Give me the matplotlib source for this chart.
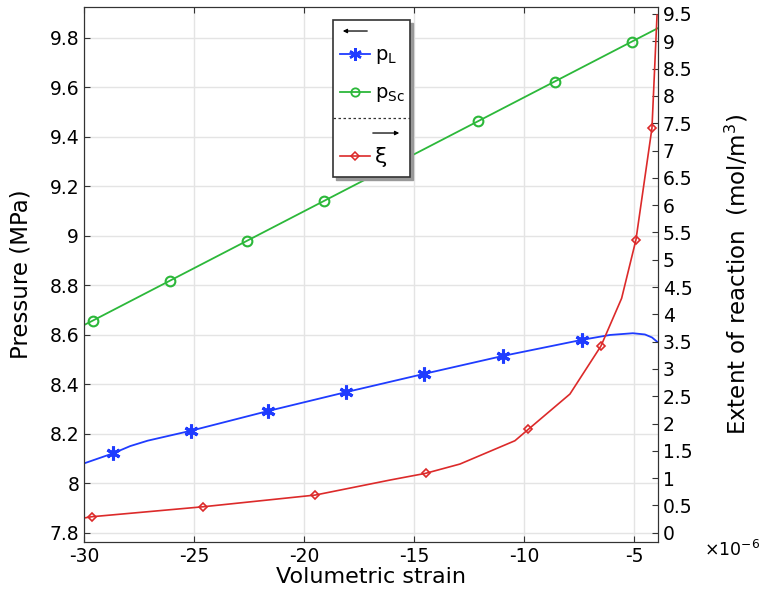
import numpy as np
import matplotlib
matplotlib.use("Agg")
import matplotlib.pyplot as plt
from matplotlib.patches import Rectangle

plt.rcParams["axes.unicode_minus"] = False

# volumetric strain in units of 1e-6
x_sc = [-30, -29.6, -26.1, -22.6, -19.1, -15.6, -12.1, -8.6, -5.1, -3.9]
p_sc = [8.639, 8.657, 8.818, 8.979, 9.140, 9.301, 9.462, 9.623, 9.784, 9.839]
sc_marks = [1, 2, 3, 4, 5, 6, 7, 8]

x_l = [-30, -28.67, -27.9, -27.1, -25.14, -21.62, -18.09, -14.53, -10.97, -7.38,
       -6.09, -5.05, -4.5, -4.18, -3.95]
p_l = [8.080, 8.121, 8.150, 8.172, 8.212, 8.292, 8.368, 8.442, 8.514, 8.579,
       8.599, 8.606, 8.601, 8.589, 8.572]
l_marks = [1, 4, 5, 6, 7, 8, 9]

x_xi = [-30, -29.65, -24.58, -19.49, -16.09, -14.47, -12.91, -10.41, -9.80,
        -7.91, -6.50, -5.56, -4.91, -4.18, -3.95]
xi = [0.27, 0.293, 0.476, 0.690, 0.965, 1.088, 1.258, 1.685, 1.894,
      2.540, 3.419, 4.293, 5.361, 7.412, 9.48]
xi_marks = [1, 2, 3, 5, 8, 10, 12, 13]

blue = "#1f3cff"
green = "#2cb83a"
red = "#dc2a2a"

fig = plt.figure(figsize=(7.65, 5.94), dpi=100)
ax = fig.add_axes([0.1098, 0.0875, 0.7505, 0.9007])
ax2 = ax.twinx()

ax.plot(x_l, p_l, color=blue, lw=1.3, marker=(6, 2, 0), ms=10, mew=2.2,
        markevery=l_marks)
ax.plot(x_sc, p_sc, color=green, lw=1.3, marker="o", ms=7, mew=1.5,
        mfc="none", markevery=sc_marks)
ax2.plot(x_xi, xi, color=red, lw=1.2, marker="D", ms=4.5, mew=1.2,
         mfc="none", markevery=xi_marks)

ax.set_xlim(-30, -3.9)
ax.set_ylim(7.7624, 9.924)
ax2.set_ylim(-0.17, 9.628)

ax.set_xticks([-30, -25, -20, -15, -10, -5])
ax.set_yticks([7.8, 8, 8.2, 8.4, 8.6, 8.8, 9, 9.2, 9.4, 9.6, 9.8])
ax.set_yticklabels(["7.8", "8", "8.2", "8.4", "8.6", "8.8", "9", "9.2", "9.4", "9.6", "9.8"])
ax2.set_yticks(np.arange(0, 9.51, 0.5))
ax2.set_yticklabels([f"{v:g}" for v in np.arange(0, 9.51, 0.5)])

ax.grid(True, color="#e4e4e4", lw=1)
ax.set_axisbelow(True)
ax.tick_params(direction="in", top=True, right=False, length=4, labelsize=13.5,
               color="#333333")
ax2.tick_params(direction="in", length=4, labelsize=13.5, color="#333333")
for a in (ax, ax2):
    for s in a.spines.values():
        s.set_color("#333333")

ax.set_xlabel("Volumetric strain", fontsize=16, labelpad=1)
ax.set_ylabel("Pressure (MPa)", fontsize=16.5, labelpad=12)
ax2.set_ylabel("Extent of reaction  (mol/m$^3$)", fontsize=16.5, labelpad=22)
fig.text(0.993, 0.074, "×10$^{-6}$", fontsize=12.5, ha="right", va="center")

# COMSOL-style legend
lg = fig.add_axes([0.4353, 0.702, 0.1007, 0.2643])
lg.set_xlim(0, 77)
lg.set_ylim(157, 0)
lg.axis("off")
lg.add_patch(Rectangle((3, 3), 77, 157, color="#999999", clip_on=False, zorder=0))
lg.add_patch(Rectangle((0, 0), 77, 157, facecolor="white", edgecolor="#333333",
                       lw=1.2, clip_on=False, zorder=1))
lg.annotate("", xy=(7, 11), xytext=(37, 11),
            arrowprops=dict(arrowstyle="-|>", color="black", lw=0.9,
                            mutation_scale=6), zorder=3)
lg.plot([7, 37], [34, 34], color=blue, lw=1.3, zorder=3)
lg.plot([22], [34], color=blue, marker=(6, 2, 0), ms=9, mew=1.8, zorder=3)
lg.text(42, 36, "p$_{\\mathrm{L}}$", fontsize=14, va="center", zorder=3)
lg.plot([7, 37], [72, 72], color=green, lw=1.3, zorder=3)
lg.plot([22], [72], color=green, marker="o", ms=6, mew=1.3, mfc="none", zorder=3)
lg.text(42, 74, "p$_{\\mathrm{Sc}}$", fontsize=14, va="center", zorder=3)
lg.plot([0, 77], [98, 98], color="#333333", lw=0.9, ls=(0, (2, 2)), zorder=3)
lg.annotate("", xy=(69, 113), xytext=(37, 113),
            arrowprops=dict(arrowstyle="-|>", color="black", lw=0.9,
                            mutation_scale=6), zorder=3)
lg.plot([7, 37], [136, 136], color=red, lw=1.2, zorder=3)
lg.plot([22], [136], color=red, marker="D", ms=4, mew=1.1, mfc="none", zorder=3)
lg.text(42, 137, "ξ", fontsize=16, va="center", zorder=3)

fig.savefig("out.png", dpi=100)
